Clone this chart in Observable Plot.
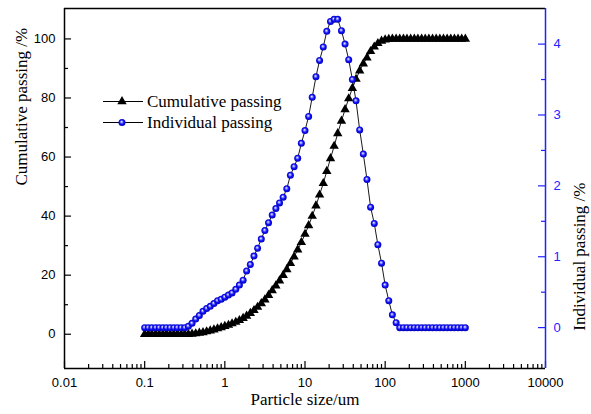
<!DOCTYPE html>
<html>
<head>
<meta charset="utf-8">
<script src="https://cdn.jsdelivr.net/npm/d3@7"></script>
<script src="https://cdn.jsdelivr.net/npm/@observablehq/plot@0.6"></script>
<style>
  body { margin: 0; background: #fff; }
  #chart { width: 591px; height: 414px; }
  .serif-title text { font-family: "Liberation Serif", "Times New Roman", serif; }
</style>
</head>
<body>
<div id="chart"></div>
<script>
// Particle size (um), log-spaced bins
const sizes = [
  0.100, 0.111, 0.123, 0.137, 0.152, 0.169, 0.187, 0.208, 0.231, 0.256, 0.285, 0.316, 0.351, 0.390, 0.433, 0.481, 0.534, 0.593, 0.658, 0.731, 0.811, 0.901,
  1.00, 1.11, 1.23, 1.37, 1.52, 1.69, 1.87, 2.08, 2.31, 2.56, 2.85, 3.16, 3.51, 3.90, 4.33, 4.81, 5.34, 5.93, 6.58, 7.31, 8.11, 9.01,
  10.0, 11.1, 12.3, 13.7, 15.2, 16.9, 18.7, 20.8, 23.1, 25.6, 28.5, 31.6, 35.1, 39.0, 43.3, 48.1, 53.4, 59.3, 65.8, 73.1, 81.1, 90.1,
  100, 111, 123, 137, 152, 169, 187, 208, 231, 256, 285, 316, 351, 390, 433, 481, 534, 593, 658, 731, 811, 901,
  1000
];

// Cumulative passing (%), left axis
const cumulative = [
  0, 0, 0, 0, 0, 0, 0, 0, 0, 0, 0, 0,
  0.0, 0.1, 0.2, 0.4, 0.6, 0.9, 1.2, 1.5, 1.9, 2.3,
  2.7, 3.1, 3.6, 4.1, 4.7, 5.4, 6.2, 7.1, 8.1, 9.2,
  10.4, 11.7, 13.2, 14.8, 16.4, 18.1, 20.0, 21.9, 24.0, 26.2,
  28.6, 31.1, 33.9, 36.8, 40.0, 43.5, 47.2, 51.1, 55.2, 59.5,
  63.7, 68.0, 72.2, 76.1, 79.8, 83.3, 86.4, 89.2, 91.6, 93.6,
  95.8, 97.3, 98.5, 99.3, 99.7, 99.9, 100, 100,
  100, 100, 100, 100, 100, 100, 100, 100, 100, 100, 100, 100, 100, 100, 100, 100, 100, 100, 100
];

// Individual passing (%), right axis
const individual = [
  0, 0, 0, 0, 0, 0, 0, 0, 0, 0, 0, 0,
  0.02, 0.06, 0.12, 0.17, 0.23, 0.27, 0.30, 0.34, 0.38, 0.40,
  0.43, 0.46, 0.49, 0.54, 0.60, 0.67, 0.80, 0.89, 1.01, 1.12,
  1.25, 1.37, 1.48, 1.59, 1.68, 1.76, 1.84, 1.96, 2.15, 2.27,
  2.39, 2.60, 2.78, 2.98, 3.25, 3.54, 3.77, 3.96, 4.18, 4.32,
  4.35, 4.35, 4.19, 4.00, 3.78, 3.50, 3.20, 2.79, 2.45, 2.09,
  1.70, 1.47, 1.17, 0.91, 0.60, 0.38, 0.18, 0.07,
  0, 0, 0, 0, 0, 0, 0, 0, 0, 0, 0, 0, 0, 0, 0, 0, 0, 0, 0
];

const xTicks = [0.01, 0.1, 1, 10, 100, 1000, 10000];
const leftTicks = [0, 20, 40, 60, 80, 100];
const leftMinor = [10, 30, 50, 70, 90];
const rightTicks = [0, 1, 2, 3, 4];
const rightMinor = [0.5, 1.5, 2.5, 3.5];
const xMinor = [0.01, 0.1, 1, 10, 100, 1000].flatMap(d => [2, 3, 4, 5, 6, 7, 8, 9].map(m => d * m));

// Right axis values share the left y scale through a linear map
const RIGHT_OFFSET = 2.24, RIGHT_FACTOR = 24;
const toLeft = v => RIGHT_OFFSET + RIGHT_FACTOR * v;

const W = 591, H = 414;
const mL = 64, mR = 46, mT = 8, mB = 46;
const innerW = W - mL - mR, innerH = H - mT - mB;
const BLUE = "#2222ff";
const SERIF = "Liberation Serif";
const SANS = "Liberation Sans";

const rows = sizes.map((s, i) => ({size: s, cum: cumulative[i], ind: individual[i]}));

const majorLen = 7, minorLen = 4;

const chart = Plot.plot({
  width: W,
  height: H,
  marginLeft: mL,
  marginRight: mR,
  marginTop: mT,
  marginBottom: mB,
  style: {fontFamily: SANS, fontSize: "13px", color: "black", background: "white"},
  x: {type: "log", domain: [0.01, 10000]},
  y: {domain: [-11.6, 110.3]},
  marks: [
    // tick labels
    Plot.axisX({ticks: xTicks, tickFormat: d => String(d), tickSize: 0, tickPadding: 9, label: null, fontSize: 13}),
    Plot.axisY({ticks: leftTicks, tickFormat: d => String(d), tickSize: 0, tickPadding: 9, label: null, fontSize: 13}),
    Plot.axisY({anchor: "right", ticks: rightTicks.map(toLeft),
      tickFormat: d => String(Math.round((d - RIGHT_OFFSET) / RIGHT_FACTOR)),
      tickSize: 0, tickPadding: 8, label: null, fontSize: 13, fill: BLUE}),

    // inward tick marks
    Plot.tickX(xTicks, {x: d => d, insetTop: innerH - majorLen, stroke: "black", strokeWidth: 1.2}),
    Plot.tickX(xMinor, {x: d => d, insetTop: innerH - minorLen, stroke: "black", strokeWidth: 1.2}),
    Plot.tickY(leftTicks, {y: d => d, insetRight: innerW - majorLen, stroke: "black", strokeWidth: 1.2}),
    Plot.tickY(leftMinor, {y: d => d, insetRight: innerW - minorLen, stroke: "black", strokeWidth: 1.2}),
    Plot.tickY(rightTicks, {y: d => toLeft(d), insetLeft: innerW - majorLen, stroke: BLUE, strokeWidth: 1.2}),
    Plot.tickY(rightMinor, {y: d => toLeft(d), insetLeft: innerW - minorLen, stroke: BLUE, strokeWidth: 1.2}),

    // frame
    Plot.ruleY([110.3], {stroke: "black", strokeWidth: 1.5}),
    Plot.ruleY([-11.6], {stroke: "black", strokeWidth: 1.5}),
    Plot.ruleX([0.01], {stroke: "black", strokeWidth: 1.5}),
    Plot.ruleX([10000], {stroke: BLUE, strokeWidth: 1.5}),

    // cumulative passing
    Plot.line(rows, {x: "size", y: "cum", stroke: "black", strokeWidth: 0.9}),
    Plot.dot(rows, {x: "size", y: "cum", symbol: "triangle", r: 3.5, fill: "black", stroke: "none"}),

    // individual passing
    Plot.line(rows, {x: "size", y: d => toLeft(d.ind), stroke: "black", strokeWidth: 0.9}),
    Plot.dot(rows, {x: "size", y: d => toLeft(d.ind), r: 3.5, fill: "url(#ball)", stroke: "none"}),

    // axis titles
    Plot.text(["Cumulative passing /%"], {text: d => d, frameAnchor: "left", dx: -43, dy: -3, rotate: -90,
      fontSize: 17, fill: "black", className: "serif-title"}),
    Plot.text(["Individual passing /%"], {text: d => d, frameAnchor: "right", dx: 34, dy: -6, rotate: -90,
      fontSize: 17, fill: "black", className: "serif-title"}),
    Plot.text(["Particle size/um"], {text: d => d, frameAnchor: "bottom", dy: 36,
      fontSize: 17, fill: "black", className: "serif-title"})
  ]
});

const svg = d3.select(chart);

// axis titles use the serif face
svg.selectAll("g[aria-label='text'] text").style("font-family", "'Liberation Serif', 'Times New Roman', serif");

// shaded sphere fill for the individual passing markers
const grad = svg.insert("defs", ":first-child")
  .append("radialGradient")
  .attr("id", "ball")
  .attr("cx", "0.5").attr("cy", "0.5").attr("r", "0.55")
  .attr("fx", "0.42").attr("fy", "0.38");
grad.append("stop").attr("offset", "0").attr("stop-color", "#ffffff");
grad.append("stop").attr("offset", "0.22").attr("stop-color", "#9a9aff");
grad.append("stop").attr("offset", "0.55").attr("stop-color", "#1010ff");
grad.append("stop").attr("offset", "1").attr("stop-color", "#0000a8");

// legend
const legend = svg.append("g")
  .attr("font-family", SERIF).attr("font-size", 17).attr("text-anchor", "start");
const items = [
  {label: "Cumulative passing", kind: "triangle", y: 101.5},
  {label: "Individual passing", kind: "ball", y: 122.5}
];
items.forEach(it => {
  const g = legend.append("g").attr("transform", `translate(0,${it.y})`);
  g.append("line").attr("x1", 103).attr("x2", 143).attr("y1", 0).attr("y2", 0)
    .attr("stroke", "black").attr("stroke-width", 1);
  if (it.kind === "triangle") {
    g.append("path").attr("d", d3.symbol(d3.symbolTriangle, Math.PI * 3.5 * 3.5)())
      .attr("transform", "translate(122,0)").attr("fill", "black");
  } else {
    g.append("circle").attr("cx", 122).attr("cy", 0).attr("r", 3.5).attr("fill", "url(#ball)");
  }
  g.append("text").attr("x", 147).attr("y", 0).attr("dy", "0.33em")
    .attr("text-anchor", "start").attr("fill", "black").text(it.label);
});

document.getElementById("chart").append(chart);
</script>
</body>
</html>
